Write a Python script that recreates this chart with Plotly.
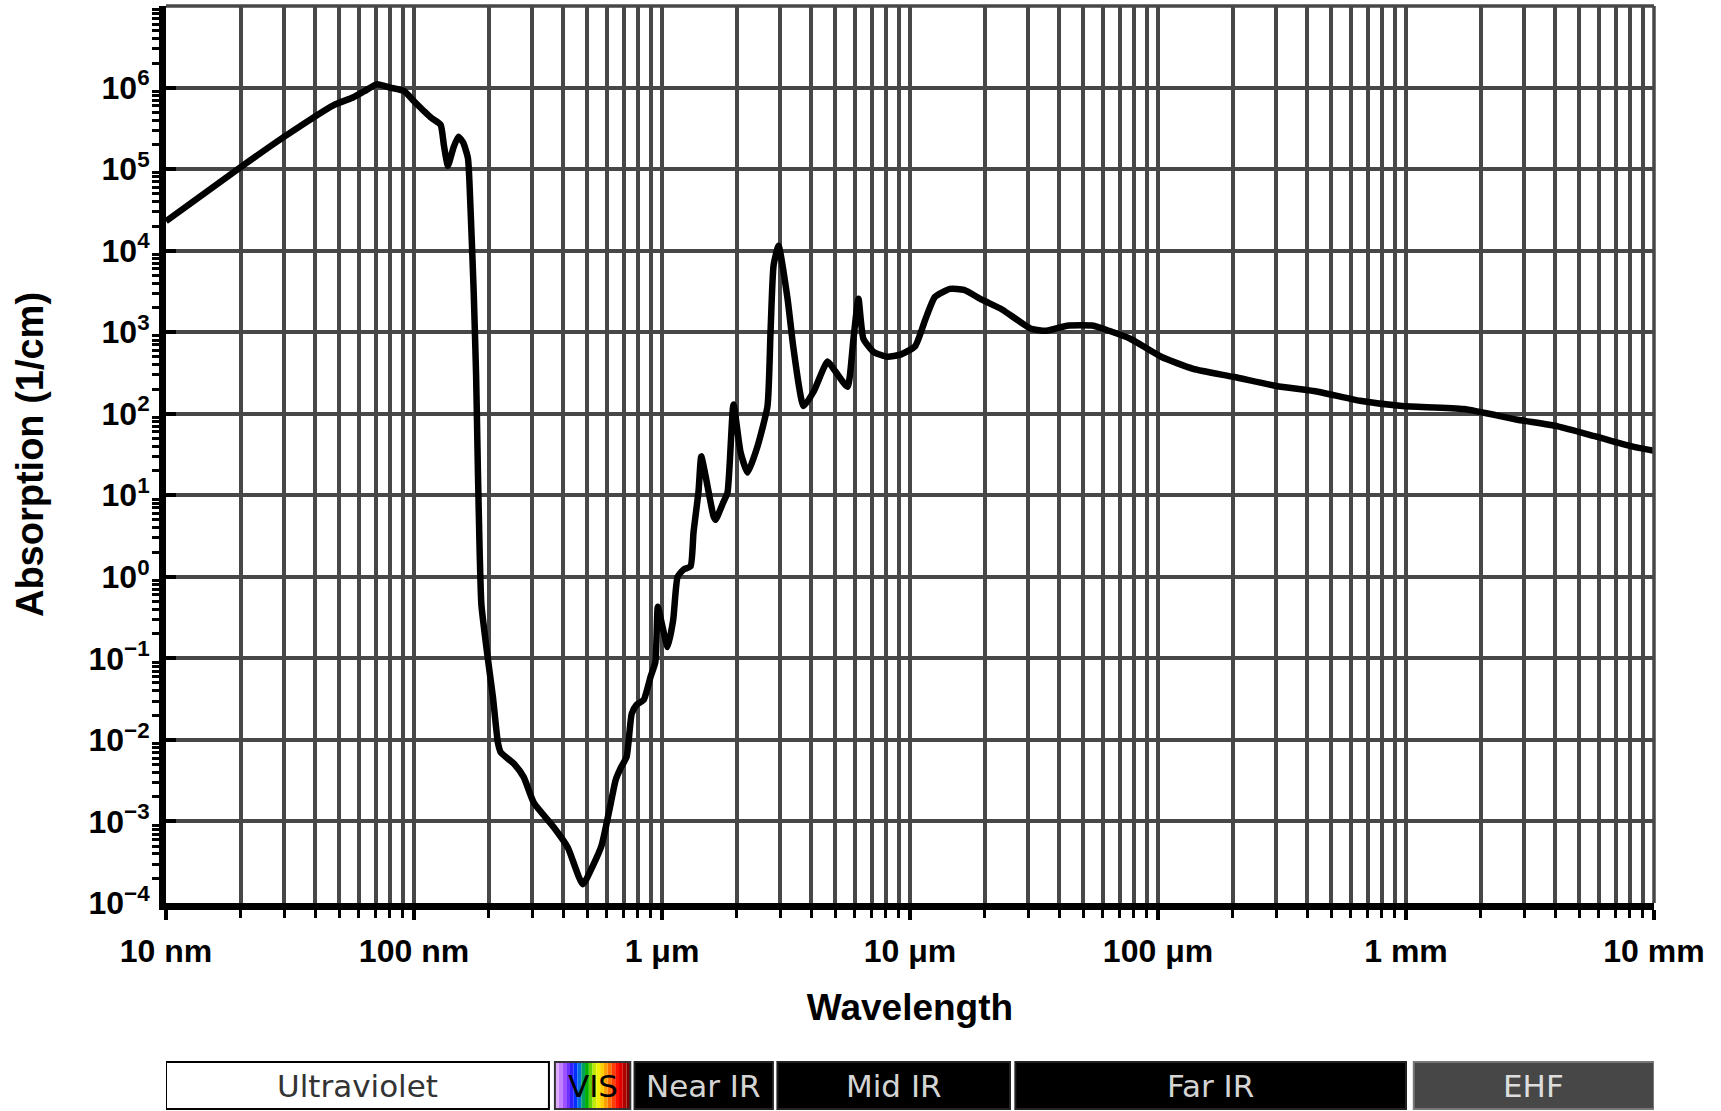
import numpy as np
import plotly.graph_objects as go

# ---------------- data ----------------
wavelength_nm = [10, 19.5, 30, 47.5, 57, 63, 71, 80, 91, 100, 110, 118, 128, 132, 137, 144, 151, 158,
                 165, 169, 174, 178, 181, 184, 187, 198, 208, 218, 224, 253, 277, 304, 366, 417, 479,
                 530, 571, 621, 650, 681, 720, 755, 790, 844, 900, 940, 962, 990, 1054, 1110, 1156,
                 1222, 1303, 1340, 1403, 1440, 1500, 1614, 1644, 1760, 1837, 1942, 2073, 2214, 2428,
                 2663, 2739, 2818, 2951, 3208, 3390, 3722, 4083, 4650, 4914, 5594, 5915, 6196, 6487,
                 7123, 8110, 9146, 10500, 11500, 12600, 14500, 16500, 19500, 23500, 30800, 35500,
                 43000, 55000, 63500, 77300, 103000, 138700, 202800, 299400, 441700, 653000, 964000,
                 1.71e6, 2.78e6, 4.09e6, 5.77e6, 8.07e6, 1.0e7]
absorption_per_cm = [2.3e4, 1.0e5, 2.5e5, 6.1e5, 7.6e5, 9.0e5, 1.1e6, 1.0e6, 9.1e5, 6.8e5, 5.1e5, 4.2e5,
                     3.5e5, 1.96e5, 1.1e5, 1.8e5, 2.5e5, 2.1e5,
                     1.36e5, 3.3e4, 3.2e3, 300, 20, 2.0, 0.45, 0.105, 0.034, 0.0092, 0.007, 0.0051,
                     0.0035, 0.0017, 8.5e-4, 4.8e-4, 1.7e-4,
                     3.0e-4, 5.1e-4, 1.65e-3, 3.2e-3, 4.5e-3, 6.2e-3, 0.021, 0.027, 0.031, 0.06, 0.09,
                     0.43, 0.3, 0.138, 0.3, 1.0,
                     1.23, 1.34, 3.5, 11, 30, 17, 5.5, 5.0, 8.0, 10.8, 130, 34, 19, 40,
                     124, 1.0e3, 6.6e3, 1.15e4, 2.57e3, 630, 124, 186, 437, 357, 214, 830, 2.57e3, 830,
                     575, 500, 530, 676, 1.4e3, 2.7e3, 3.4e3, 3.3e3, 2.5e3, 1.9e3, 1.1e3, 1.04e3,
                     1.2e3, 1.2e3, 1.04e3, 830, 500, 355, 282, 219, 186, 144, 124,
                     114, 85, 70, 53, 40, 35]

x_tick_vals = [10, 100, 1e3, 1e4, 1e5, 1e6, 1e7]
x_tick_text = ["10 nm", "100 nm", "1 μm", "10 μm", "100 μm", "1 mm", "10 mm"]
y_exponents = list(range(-4, 7))
y_tick_vals = [10.0 ** e for e in y_exponents]
y_tick_text = ["10<sup>%s</sup>" % str(e).replace("-", "−") for e in y_exponents]

band_names = ["Ultraviolet", "VIS", "Near IR", "Mid IR", "Far IR", "EHF"]
band_start_nm = [10, 370, 775, 2920, 26600, 1.075e6]
band_end_nm = [350, 745, 2800, 25300, 1.0e6, 1.0e7]
band_fill = ["white", None, "black", "black", "black", "#474747"]
band_line = ["black", "#333333", "#222222", "#222222", "#222222", "#777777"]
band_text_color = ["#333333", "black", "#d4d4d4", "#d4d4d4", "#d4d4d4", "#dddddd"]
vis_colors = ["#e0a8ff", "#c080ff", "#a050ff", "#7030ff", "#3020ff", "#0030ff", "#0070e0", "#00a060",
              "#00b000", "#60d000", "#c0e800", "#f0f000", "#ffd000", "#ffa000", "#ff7000", "#ff4000",
              "#ff1000", "#e00000", "#b00000", "#800000"]

# ---------------- figure ----------------
W, H = 1721, 1111
ML, MR, MT, MB = 166, 67, 6, 208
plot_h = H - MT - MB

def py(px):  # pixel row -> paper y
    return (H - MB - px) / plot_h

fig = go.Figure()
fig.add_trace(go.Scatter(x=wavelength_nm, y=absorption_per_cm, mode="lines",
                         line=dict(color="black", width=6.5, shape="spline", smoothing=0.5),
                         showlegend=False, hoverinfo="skip"))

x_minor = [k * 10.0 ** e for e in range(1, 7) for k in range(2, 10)]
y_minor = [k * 10.0 ** e for e in range(-4, 7) for k in range(2, 10)]

bold_font = dict(family="Liberation Sans, Arial, sans-serif", size=32, color="black", weight="bold")
grid_col = "#474747"
grid_w = 3.5

fig.update_xaxes(type="log", range=[1, 7], tickmode="array", tickvals=x_tick_vals, ticktext=x_tick_text,
                 ticks="outside", ticklen=10, tickwidth=4, tickcolor="black",
                 showline=True, linecolor="black", linewidth=7,
                 showgrid=True, gridcolor=grid_col, gridwidth=grid_w,
                 minor=dict(tickvals=x_minor, ticks="outside", ticklen=8, tickwidth=3, tickcolor="black",
                            showgrid=True, gridcolor=grid_col, gridwidth=grid_w),
                 tickfont=bold_font, ticklabelstandoff=4, automargin=False, zeroline=False,
                 title=dict(text="Wavelength", font=dict(bold_font, size=37), standoff=28))
fig.update_yaxes(type="log", range=[-4, 7], tickmode="array", tickvals=y_tick_vals, ticktext=y_tick_text,
                 ticks="inside", ticklen=10, tickwidth=4, tickcolor="black",
                 showline=True, linecolor="black", linewidth=7,
                 showgrid=True, gridcolor=grid_col, gridwidth=grid_w,
                 minor=dict(tickvals=y_minor, ticks="outside", ticklen=7, tickwidth=3, tickcolor="black",
                            showgrid=False),
                 tickfont=bold_font, ticklabelstandoff=3, automargin=False, zeroline=False,
                 title=dict(text="Absorption (1/cm)", font=dict(bold_font, size=38), standoff=36))

shapes = [
    dict(type="line", xref="paper", yref="paper", x0=0, x1=1, y0=1, y1=1,
         line=dict(color=grid_col, width=grid_w)),
    dict(type="line", xref="paper", yref="paper", x0=1, x1=1, y0=0, y1=1,
         line=dict(color=grid_col, width=grid_w)),
]
annotations = []
band_y0, band_y1 = py(1109), py(1062)
for name, s, e, fill, lc, tc in zip(band_names, band_start_nm, band_end_nm, band_fill, band_line,
                                    band_text_color):
    if fill is None:
        edges = np.geomspace(s, e, len(vis_colors) + 1)
        for c, a, b in zip(vis_colors, edges[:-1], edges[1:]):
            shapes.append(dict(type="rect", xref="x", yref="paper", x0=a, x1=b, y0=band_y0, y1=band_y1,
                               fillcolor=c, line=dict(width=0)))
        shapes.append(dict(type="rect", xref="x", yref="paper", x0=s, x1=e, y0=band_y0, y1=band_y1,
                           line=dict(color=lc, width=2)))
    else:
        shapes.append(dict(type="rect", xref="x", yref="paper", x0=s, x1=e, y0=band_y0, y1=band_y1,
                           fillcolor=fill, line=dict(color=lc, width=2)))
    annotations.append(dict(x=np.log10(np.sqrt(s * e)), xref="x", y=(band_y0 + band_y1) / 2, yref="paper",
                            text=name, showarrow=False, xanchor="center", yanchor="middle",
                            font=dict(family="DejaVu Sans", size=31, color=tc)))

fig.update_layout(width=W, height=H, margin=dict(l=ML, r=MR, t=MT, b=MB, pad=0),
                  paper_bgcolor="white", plot_bgcolor="white",
                  shapes=shapes, annotations=annotations, showlegend=False)

fig.write_html("out.html")
